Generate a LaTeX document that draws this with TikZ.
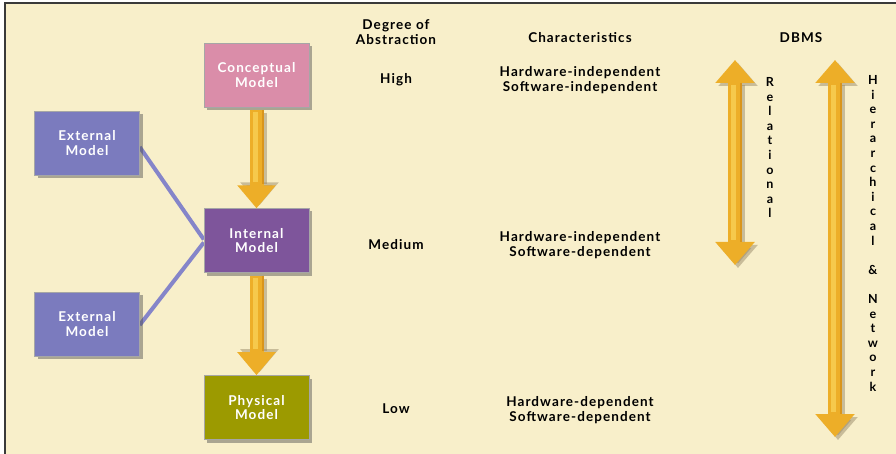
\documentclass[tikz,border=0pt]{standalone}
\usepackage{fontspec}
\setmainfont{Lato}[LetterSpace=8]
\usetikzlibrary{arrows.meta,shadows}

\definecolor{paper}{HTML}{F8EFCA}
\definecolor{frameline}{HTML}{3A3A3A}
\definecolor{concfill}{HTML}{DA8DA9}
\definecolor{extfill}{HTML}{7B7BBE}
\definecolor{intfill}{HTML}{7E559B}
\definecolor{physfill}{HTML}{9C9A00}
\definecolor{linkline}{HTML}{8585C9}
\definecolor{gold}{HTML}{EDAE28}
\definecolor{goldlight}{HTML}{F6C94C}
\definecolor{golddark}{HTML}{D9951C}
\definecolor{goldshadow}{HTML}{9A8A6A}

\tikzset{
  model/.style={draw=black!35, line width=0.6pt, minimum width=105pt, minimum height=64pt,
    align=center, text=white, font=\bfseries\fontsize{13.5}{14.5}\selectfont,
    drop shadow={shadow xshift=3pt, shadow yshift=-3pt, opacity=0.45, fill=black!70}},
  link/.style={draw=linkline, line width=4pt},
  bigarrow/.style={line width=14pt, -{Triangle[width=37pt,length=23pt]}},
  bigarrows/.style={line width=14pt, {Triangle[width=38pt,length=23pt]}-{Triangle[width=38pt,length=23pt]}},
  shine/.style={goldlight, line width=5pt},
  rim/.style={golddark, line width=2pt},
  label/.style={align=center, font=\bfseries\fontsize{13.5}{15}\selectfont},
  vlabel/.style={align=center, font=\bfseries\fontsize{12.5}{14.6}\selectfont, anchor=north},
}

\begin{document}
\begin{tikzpicture}[x=1pt,y=-1pt]
  % page and frame
  \fill[white] (0,0) rectangle (896,454);
  \fill[paper] (5,3) rectangle (896,454);
  \useasboundingbox (0,0) rectangle (896,454);
  \draw[frameline, line width=2pt] (5,454) -- (5,3) -- (896,3);

  % node positions (links are drawn first, boxes on top)
  \coordinate (pconc) at (256.5,75);
  \coordinate (pext1) at (87,143);
  \coordinate (pint)  at (256.5,240.5);
  \coordinate (pext2) at (87,324);
  \coordinate (pphys) at (256.5,407.5);

  \node[model, fill=concfill] (conc) at (pconc) {Conceptual\\Model};
  \node[model, fill=physfill] (phys) at (pphys) {Physical\\Model};
  \path (pint) node[minimum width=105pt, minimum height=64pt] (int) {}
        (pext1) node[minimum width=105pt, minimum height=64pt] (ext1) {}
        (pext2) node[minimum width=105pt, minimum height=64pt] (ext2) {};

  % links from the external models to the internal model
  \draw[link] ([yshift=-4pt]ext1.east) -- ([yshift=1pt]int.west);
  \draw[link] ([yshift=-1pt]ext2.east) -- ([yshift=-2pt]int.west);

  \node[model, fill=intfill] at (int)  {Internal\\Model};
  \node[model, fill=extfill] at (ext1) {External\\Model};
  \node[model, fill=extfill] at (ext2) {External\\Model};

  % downward arrows between levels
  \foreach \a/\b in {conc/int, int/phys}{
    \draw[bigarrow, goldshadow, opacity=0.5] ([xshift=3pt,yshift=-6pt]\a.south) -- ([xshift=3pt,yshift=3pt]\b.north);
    \draw[bigarrow, gold] ([yshift=-3pt]\a.south) -- (\b.north);
    \draw[shine] ([xshift=-1.5pt,yshift=-5pt]\a.south) -- ([xshift=-1.5pt,yshift=26pt]\b.north);
    \draw[rim] ([xshift=6pt,yshift=-3pt]\a.south) -- ([xshift=6pt,yshift=24pt]\b.north);
  }

  % column headings
  \node[label] (hdeg)  at (396,32) {Degree of\\Abstraction};
  \node[label] (hchar) at (580,38) {Characteristics};
  \node[label] (hdbms) at (801,38) {DBMS};

  % rows
  \node[label] (high) at (396,80)  {High};
  \node[label] (med)  at (396,245) {Medium};
  \node[label] (low)  at (396,409) {Low};
  \node[label] (c1) at (580,80.5)  {Hardware-independent\\Software-independent};
  \node[label] (c2) at (580,245) {Hardware-independent\\Software-dependent};
  \node[label] (c3) at (580,410.5) {Hardware-dependent\\Software-dependent};

  % DBMS ranges
  \coordinate (rtop) at (735,60);
  \coordinate (rbot) at (735,265);
  \coordinate (htop) at (835,60);
  \coordinate (hbot) at (835,437);
  \foreach \t/\b in {rtop/rbot, htop/hbot}{
    \draw[bigarrows, goldshadow, opacity=0.5] ([xshift=3pt,yshift=-3pt]\t) -- ([xshift=3pt,yshift=-3pt]\b);
    \draw[bigarrows, gold] (\t) -- (\b);
    \draw[shine] ([xshift=-1.5pt,yshift=-25pt]\t) -- ([xshift=-1.5pt,yshift=25pt]\b);
    \draw[rim] ([xshift=6pt,yshift=-23pt]\t) -- ([xshift=6pt,yshift=23pt]\b);
  }

  \node[vlabel] (rel) at (770,74) {R\\e\\l\\a\\t\\i\\o\\n\\a\\l};
  \node[vlabel] (hier) at (873,72) {H\\i\\e\\r\\a\\r\\c\\h\\i\\c\\a\\l\\\mbox{}\\\&\\\mbox{}\\N\\e\\t\\w\\o\\r\\k};
\end{tikzpicture}
\end{document}
